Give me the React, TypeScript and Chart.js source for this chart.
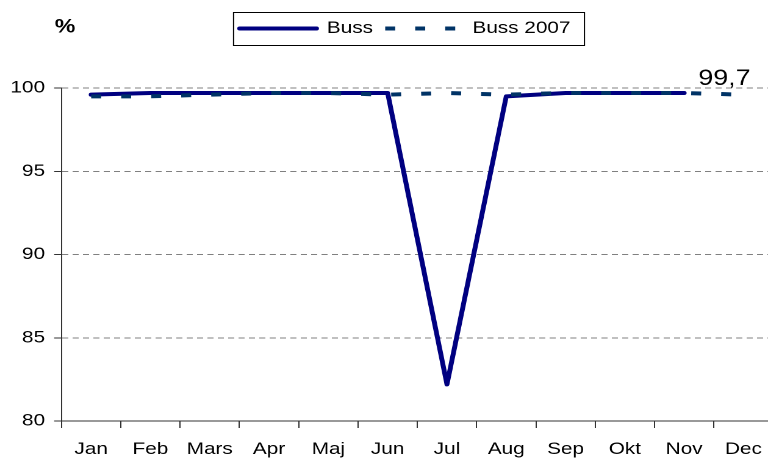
import React, { useEffect, useRef } from 'react';
import { Chart, registerables } from 'chart.js';

Chart.register(...registerables);

const months = ['Jan', 'Feb', 'Mars', 'Apr', 'Maj', 'Jun', 'Jul', 'Aug', 'Sep', 'Okt', 'Nov', 'Dec'];
const buss = [99.6, 99.7, 99.7, 99.7, 99.7, 99.7, 82.2, 99.5, 99.7, 99.7, 99.7, null];
const buss2007 = [99.5, 99.5, 99.6, 99.7, 99.7, 99.6, 99.7, 99.6, 99.7, 99.7, 99.7, 99.6];
const seriesNames = ['Buss', 'Buss 2007'];
const yMin = 80;
const yMax = 100;
const yStep = 5;
const unitLabel = '%';
const dataLabelIndex = 10;
const dataLabelText = '99,7';

const FONT = "'Liberation Sans', Arial, sans-serif";
const S = 1.22; // horizontal stretch of the original picture
const CW = 640;
const LEGEND_CENTER = 332;

const overlayPlugin = {
  id: 'overlay',
  afterLayout(chart: any) {
    const lg = chart.legend;
    if (lg) {
      const dx = LEGEND_CENTER - (lg.left + lg.right) / 2;
      lg.left += dx;
      lg.right += dx;
    }
  },
  afterDraw(chart: any) {
    const ctx = chart.ctx;
    // legend frame
    const hb = chart.legend && chart.legend.legendHitBoxes;
    if (hb && hb.length) {
      const first = hb[0];
      const last = hb[hb.length - 1];
      const left = first.left - 5;
      const right = last.left + last.width + 11.5;
      const top = Math.round(first.top - 8) + 0.5;
      const bottom = Math.round(first.top + 25) + 0.5;
      ctx.save();
      ctx.strokeStyle = '#000';
      ctx.lineWidth = 1;
      ctx.strokeRect(left, top, right - left, bottom - top);
      ctx.restore();
    }
    // unit label
    ctx.save();
    ctx.fillStyle = '#000';
    ctx.font = `bold 19px ${FONT}`;
    ctx.textAlign = 'center';
    ctx.textBaseline = 'middle';
    ctx.fillText(unitLabel, 53.3, 27.5);
    ctx.restore();
    // data label
    const meta = chart.getDatasetMeta(0);
    const el = meta && meta.data[dataLabelIndex];
    if (el) {
      ctx.save();
      ctx.fillStyle = '#000';
      ctx.font = `22px ${FONT}`;
      ctx.textAlign = 'center';
      ctx.textBaseline = 'alphabetic';
      ctx.fillText(dataLabelText, el.x + 33, el.y - 8);
      ctx.restore();
    }
  },
};

export default function App() {
  const ref = useRef<HTMLCanvasElement>(null);

  useEffect(() => {
    if (!ref.current) return;
    const chart = new Chart(ref.current, {
      type: 'line',
      data: {
        labels: months,
        datasets: [
          {
            label: seriesNames[0],
            data: buss,
            borderColor: '#000080',
            backgroundColor: '#000080',
            borderWidth: 4,
            borderCapStyle: 'round',
            borderJoinStyle: 'round',
            pointRadius: 0,
            tension: 0,
            order: 2,
          },
          {
            label: seriesNames[1],
            data: buss2007,
            borderColor: '#003366',
            backgroundColor: '#003366',
            borderWidth: 4,
            borderDash: [8.2, 16.4],
            borderCapStyle: 'butt',
            pointRadius: 0,
            tension: 0,
            order: 1,
          },
        ],
      } as any,
      options: {
        animation: false,
        responsive: true,
        maintainAspectRatio: false,
        devicePixelRatio: 2,
        layout: { padding: { top: 10, left: 0, right: 6.3, bottom: 0 } },
        plugins: {
          tooltip: { enabled: false },
          legend: {
            position: 'top',
            align: 'center',
            labels: {
              usePointStyle: true,
              pointStyle: 'line',
              pointStyleWidth: 63,
              padding: 10,
              color: '#000',
              font: { family: FONT, size: 17 },
              sort: (a: any, b: any) => a.datasetIndex - b.datasetIndex,
              generateLabels: (c: any) => {
                const items = (Chart.defaults.plugins.legend.labels as any).generateLabels(c);
                return items.map((it: any) => {
                  const ds = c.data.datasets[it.datasetIndex];
                  return {
                    ...it,
                    pointStyle: 'line',
                    lineDash: ds.borderDash || [],
                    lineWidth: ds.borderWidth,
                    strokeStyle: ds.borderColor,
                    lineCap: ds.borderCapStyle,
                  };
                });
              },
            },
          },
        },
        scales: {
          x: {
            type: 'category',
            offset: true,
            grid: {
              offset: true,
              drawOnChartArea: false,
              drawTicks: true,
              tickLength: 7,
              color: '#333',
              tickColor: '#333',
            },
            border: { color: '#333', width: 1 },
            ticks: { color: '#000', font: { family: FONT, size: 17 }, padding: 11, maxRotation: 0, autoSkip: false },
            afterFit: (s: any) => { s.height = 40; },
          },
          xTop: {
            type: 'category',
            position: 'top',
            grid: { display: false },
            border: { display: false },
            ticks: { display: false },
            afterFit: (s: any) => { s.height = 41; },
          },
          y: {
            min: yMin,
            max: yMax,
            ticks: { stepSize: yStep, color: '#000', font: { family: FONT, size: 17 }, padding: 7.5 },
            grid: {
              color: (ctx: any) => (ctx.tick && ctx.tick.value === yMin ? 'rgba(0,0,0,0)' : '#808080'),
              tickColor: '#333',
              tickLength: 6,
              tickBorderDash: [],
              lineWidth: 1,
            },
            border: { color: '#333', width: 1, dash: [5, 3.5] },
            afterFit: (s: any) => { s.width = 50.4; },
          },
        },
      } as any,
      plugins: [overlayPlugin],
    });
    return () => chart.destroy();
  }, []);

  return (
    <div style={{ position: 'fixed', left: 0, top: 0, width: 768, height: 461, overflow: 'hidden', background: '#fff' }}>
      <div style={{ width: CW, height: 461, transform: `scaleX(${S})`, transformOrigin: '0 0', position: 'relative' }}>
        <canvas ref={ref} />
      </div>
    </div>
  );
}
